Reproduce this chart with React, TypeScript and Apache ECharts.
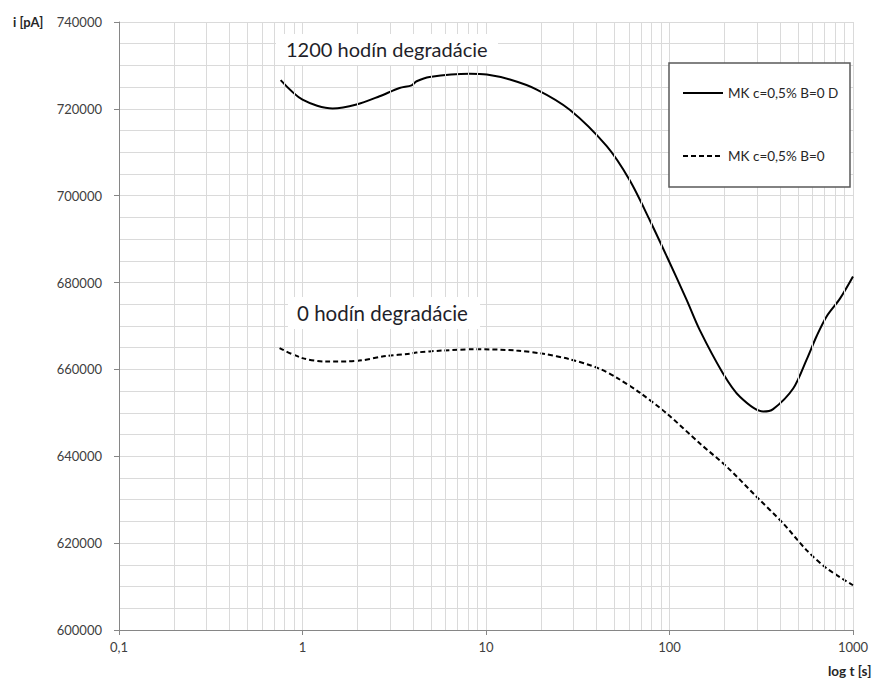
import React, { useEffect, useRef } from 'react';
import * as echarts from 'echarts';

const solidName = 'MK c=0,5% B=0 D';
const dashedName = 'MK c=0,5% B=0';

const solidT = [0.76, 1.0, 1.46, 1.97, 2.63, 3.38, 3.93, 4.19, 4.93, 8.15, 10.1, 13.5, 18.9, 28.6, 45.5, 60.8, 78.2, 96.7, 124, 146, 195, 242, 324, 367, 472, 558, 634, 718, 849, 1000];
const solidI = [726600, 722100, 720100, 721000, 722900, 724800, 725400, 726350, 727350, 728100, 727900, 726750, 724450, 719800, 711400, 703500, 694300, 686000, 676000, 669100, 659200, 653700, 650300, 650850, 655600, 662200, 667700, 672200, 676300, 681400];

const dashedT = [0.75, 1.0, 1.35, 1.97, 2.86, 3.84, 4.17, 5.83, 8.87, 14.65, 20.5, 28.6, 40.8, 52, 68.9, 96.4, 146, 205, 298, 416, 558, 718, 1000];
const dashedI = [664900, 662600, 661800, 661950, 663100, 663600, 663900, 664350, 664650, 664350, 663600, 662350, 660300, 658000, 654650, 649900, 643000, 637600, 630700, 624550, 618400, 614200, 610300];

const decades = [0.1, 1, 10, 100];
const minorSteps = [2, 3, 4, 5, 6, 7, 8, 9];

const annotTop = '1200 hodín degradácie';
const annotBottom = '0 hodín degradácie';

const FONT = 'Lato, "Open Sans", sans-serif';
const GRID = '#dadada';

export default function App() {
  const ref = useRef<HTMLDivElement>(null);
  useEffect(() => {
    if (!ref.current) return;
    const chart = echarts.init(ref.current, undefined, { renderer: 'svg' });
    const solid = solidT.map((t, i) => [t, solidI[i]]);
    const dashed = dashedT.map((t, i) => [t, dashedI[i]]);
    const minorLines: any[] = [];
    decades.forEach((d) => minorSteps.forEach((k) => minorLines.push({ xAxis: +(k * d).toPrecision(6) })));

    chart.setOption({
      animation: false,
      backgroundColor: '#fff',
      textStyle: { fontFamily: FONT },
      grid: { left: 119, right: 26, top: 22, bottom: 51, containLabel: false },
      legend: {
        data: [solidName, dashedName],
        orient: 'vertical',
        left: 682,
        top: 86,
        padding: 0,
        itemWidth: 40,
        itemHeight: 14,
        itemGap: 49,
        z: 100,
        itemStyle: { opacity: 0, borderWidth: 0 },
        textStyle: { fontFamily: FONT, fontSize: 13.5, color: '#262626' },
      },
      xAxis: {
        type: 'log',
        logBase: 10,
        min: 0.1,
        max: 1000,
        axisLine: { show: true, onZero: false, lineStyle: { color: '#868686', width: 1 } },
        axisTick: { show: true, length: 5, lineStyle: { color: '#868686' } },
        axisLabel: {
          margin: 10,
          fontFamily: FONT,
          fontSize: 13,
          color: '#404040',
          formatter: (v: number) => String(+(+v).toPrecision(6)).replace('.', ','),
        },
        splitLine: { show: true, lineStyle: { color: GRID, width: 1 } },
      },
      yAxis: {
        type: 'value',
        min: 600000,
        max: 740000,
        interval: 20000,
        axisLine: { show: true, lineStyle: { color: '#868686', width: 1 } },
        axisTick: { show: true, length: 5, lineStyle: { color: '#868686' } },
        axisLabel: {
          margin: 17,
          fontFamily: FONT,
          fontSize: 13,
          color: '#404040',
          formatter: (v: number) => String(v),
        },
        splitLine: { show: true, lineStyle: { color: GRID, width: 1 } },
        minorTick: { show: false, splitNumber: 4 },
        minorSplitLine: { show: true, lineStyle: { color: GRID, width: 1 } },
      },
      graphic: [
        {
          type: 'rect',
          z: 50,
          shape: { x: 669, y: 63, width: 181, height: 124 },
          style: { fill: '#fff', stroke: '#5a5a5a', lineWidth: 1.5 },
        },
        {
          type: 'rect',
          z: 50,
          shape: { x: 276, y: 34, width: 222, height: 31 },
          style: { fill: '#fff' },
        },
        {
          type: 'text',
          z: 51,
          x: 286,
          y: 49,
          style: { text: annotTop, font: `20px ${FONT}`, fill: '#1f1f2a', verticalAlign: 'middle' },
        },
        {
          type: 'rect',
          z: 50,
          shape: { x: 288, y: 297, width: 192, height: 32 },
          style: { fill: '#fff' },
        },
        {
          type: 'text',
          z: 51,
          x: 297,
          y: 313,
          style: { text: annotBottom, font: `20.5px ${FONT}`, fill: '#1f1f2a', verticalAlign: 'middle' },
        },
        {
          type: 'text',
          z: 51,
          x: 13,
          y: 22,
          style: { text: 'i [pA]', font: `bold 13px ${FONT}`, fill: '#262626', verticalAlign: 'middle' },
        },
        {
          type: 'text',
          z: 51,
          x: 828,
          y: 671,
          style: { text: 'log t [s]', font: `bold 13.5px ${FONT}`, fill: '#262626', verticalAlign: 'middle' },
        },
      ],
      series: [
        {
          name: '__grid',
          type: 'line',
          data: dashed,
          symbol: 'none',
          silent: true,
          z: 1,
          lineStyle: { opacity: 0 },
          markLine: {
            silent: true,
            symbol: ['none', 'none'],
            label: { show: false },
            lineStyle: { color: GRID, width: 1, type: 'solid' },
            emphasis: { disabled: true },
            data: minorLines,
          },
        },
        {
          name: solidName,
          type: 'line',
          data: solid,
          symbol: 'none',
          smooth: 0.3,
          z: 3,
          lineStyle: { color: '#000', width: 2, type: 'solid' },
          itemStyle: { color: '#000' },
        },
        {
          name: dashedName,
          type: 'line',
          data: dashed,
          symbol: 'none',
          smooth: 0.3,
          z: 3,
          lineStyle: { color: '#000', width: 2, type: [5, 3] },
          itemStyle: { color: '#000' },
        },
      ],
    });
    return () => chart.dispose();
  }, []);
  return <div ref={ref} style={{ position: 'absolute', left: 0, top: 0, width: 879, height: 681 }} />;
}
